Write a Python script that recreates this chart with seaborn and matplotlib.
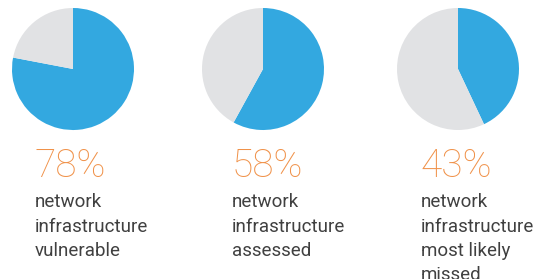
import seaborn as sns
import matplotlib.pyplot as plt

# ---- data ----
percents = [78, 58, 43]
captions = [
    "network\ninfrastructure\nvulnerable",
    "network\ninfrastructure\nassessed",
    "network\ninfrastructure\nmost likely\nmissed",
]
pie_centers_x = [73, 263, 458]
text_left_x = [35, 232, 421]

blue = "#33a8e0"
grey = "#e1e2e4"
orange = "#f0924a"
dark = "#3a3a3a"

sns.set_theme(style="white")
plt.rcParams['font.family'] = ['Roboto', 'DejaVu Sans']

W, H = 533, 279
fig = plt.figure(figsize=(W / 100, H / 100), dpi=100)
fig.patch.set_facecolor("white")

r = 61
cy = 69
for p, cap, cx, tx in zip(percents, captions, pie_centers_x, text_left_x):
    ax = fig.add_axes([(cx - r) / W, 1 - (cy + r) / H, 2 * r / W, 2 * r / H])
    ax.pie([p, 100 - p], colors=[blue, grey], startangle=90,
           counterclock=False, wedgeprops=dict(linewidth=0))
    ax.set_xlim(-1, 1)
    ax.set_ylim(-1, 1)
    ax.set_aspect("equal")
    ax.axis("off")

    fig.text(tx / W, 1 - 177 / H, f"{p}%", fontsize=28, color=orange,
             fontweight="light", ha="left", va="baseline")
    for i, line in enumerate(cap.split("\n")):
        fig.text(tx / W, 1 - (207 + 24.5 * i) / H, line, fontsize=13.5,
                 color="#404040", fontweight="normal", ha="left", va="baseline")

fig.savefig("out.png", dpi=100)
